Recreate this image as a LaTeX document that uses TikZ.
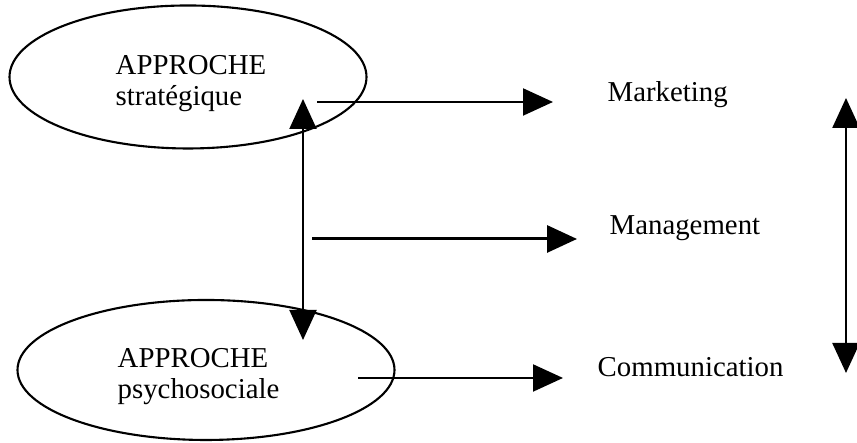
\documentclass[tikz,border=0pt]{standalone}
\usepackage{fontspec}
\setmainfont{Liberation Serif}
\usetikzlibrary{shapes.geometric,arrows.meta}
\tikzset{
  approche/.style={draw,ellipse,line width=0.6pt,inner sep=0pt},
  texteapproche/.style={anchor=west,align=left,inner sep=0pt},
  domaine/.style={anchor=west,inner sep=0pt},
  fleche/.style={-{Triangle[width=0.27cm,length=0.3cm]},line width=0.6pt},
  doublefleche/.style={{Triangle[width=0.27cm,length=0.3cm]}-{Triangle[width=0.27cm,length=0.3cm]},line width=0.6pt}
}
\begin{document}
\begin{tikzpicture}[font=\fontsize{8.2}{8.8}\selectfont]
                \useasboundingbox (0,0) rectangle (8.57,4.43);
                \node[approche,minimum width=3.57cm,minimum height=1.43cm] (strat) at (1.88,3.66) {};
                \node[approche,minimum width=3.77cm,minimum height=1.40cm] (psycho) at (2.06,0.73) {};
                \node[texteapproche] (stratTexte) at (1.15,3.59) {APPROCHE\\strat\'egique};
                \node[texteapproche] (psychoTexte) at (1.17,0.66) {APPROCHE\\psychosociale};
                \node[domaine] (mark) at (6.07,3.48) {Marketing};
                \node[domaine] (mgmt) at (6.09,2.15) {Management};
                \node[domaine] (comm) at (5.97,0.76) {Communication};
                \coordinate (haut) at (3.03,3.44);
                \coordinate (bas) at (3.03,1.03);
                \coordinate (d1) at (3.17,3.41);
                \coordinate (f1) at (5.53,3.41);
                \coordinate (d2) at (3.12,2.04);
                \coordinate (f2) at (5.77,2.04);
                \coordinate (d3) at (3.58,0.65);
                \coordinate (f3) at (5.63,0.65);
                \coordinate (ghaut) at (8.46,3.45);
                \coordinate (gbas) at (8.46,0.70);
                \draw[doublefleche] (bas)--(haut);
                \draw[fleche] (d1)--(f1);
                \draw[fleche,line width=0.85pt] (d2)--(f2);
                \draw[fleche] (d3)--(f3);
                \draw[doublefleche,line width=0.7pt] (gbas)--(ghaut);
            \end{tikzpicture}
\end{document}
